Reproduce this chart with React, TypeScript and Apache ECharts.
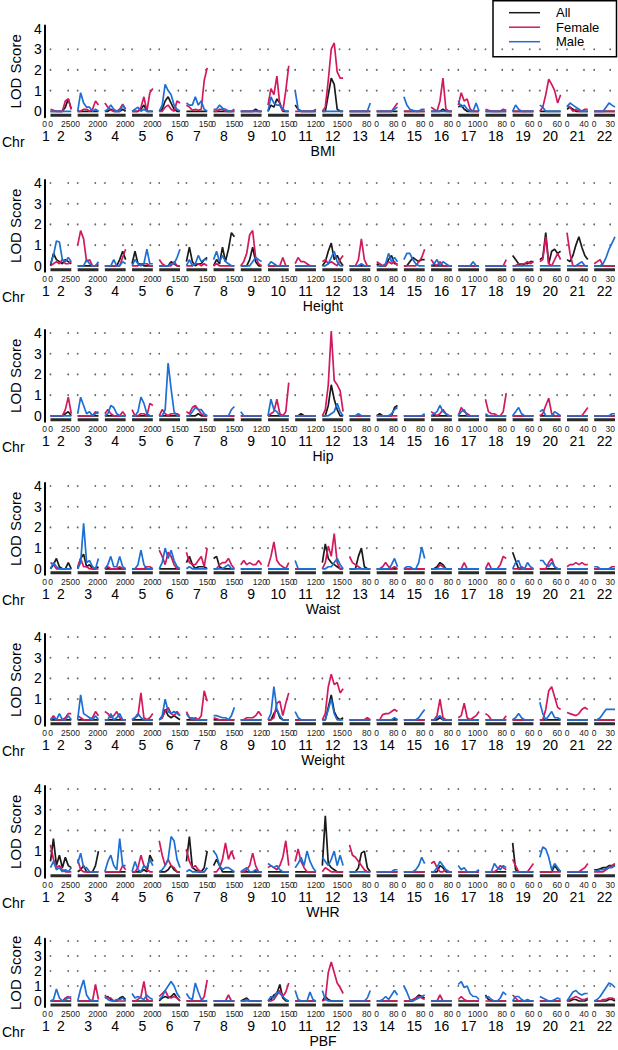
import React, { useEffect, useRef } from "react";
import * as echarts from "echarts";

// ---------------- data ----------------
const CHROMOSOMES = ["1","2","3","4","5","6","7","8","9","10","11","12","13","14","15","16","17","18","19","20","21","22"];
// labelled position (cM) and axis length (cM) of each chromosome
const CHR_TICK = [0, 250, 200, 200, 200, 150, 150, 150, 120, 150, 120, 150, 80, 80, 80, 80, 100, 80, 60, 60, 40, 30];
const CHR_LENGTH = [0, 294, 236, 229, 227, 163, 160, 165, 130, 161, 134, 181, 96, 98, 99, 95, 125, 99, 73, 72, 49, 39];
const Y_TICKS = [0, 1, 2, 3, 4];
const TRAITS = ["BMI", "Height", "Hip", "Waist", "Weight", "WHR", "PBF"];
const SERIES_NAMES = ["All", "Female", "Male"];

// LOD scores per chromosome (chr1 .. chr22), evenly spaced along each chromosome; 0 = flat at zero
type Scan = (number[] | 0 | null)[];

const BMI_ALL: Scan = [null,
  [0,0,0,0,0,0.2,0.6,0.1], 0, [0,0,0.1,0,0,0,0.1,0], [0,0,0,0.1,0.3,0,0,0], [0,0.1,0.5,0.7,0.4,0.1,0,0],
  0, 0, [0,0,0,0,0,0.1,0,0], [0,0.3,0.2,0.6,0.4,0,0,0], [0.3,0.1,0,0,0,0,0,0],
  [0,0,0.8,1.6,1.3,0.1,0,0], 0, 0, 0, [0,0,0,0,0.1,0,0,0],
  [0.2,0.3,0.1,0,0,0,0,0], 0, 0, 0, [0.1,0.2,0.1,0,0,0,0,0], 0];
const BMI_FEMALE: Scan = [null,
  [0.1,0.05,0,0,0,0.5,0.6,0.1], [0,0,0.1,0.1,0,0.1,0.5,0.3], [0.4,0.2,0.05,0,0,0.1,0.35,0.1], [0,0,0,0.2,0.7,0,0.9,1.1], [0,0,0.2,0.3,0.1,0,0.5,0.4],
  [0.3,0.2,0.05,0.1,0.05,0.1,1.5,2.1], [0,0,0.1,0.1,0,0,0,0.1], 0, [0.3,1.1,0.8,1.7,0.3,0,1.0,2.2], [0,0,0,0,0,0,0,0.1],
  [0,0.2,1.5,3.0,3.3,1.9,1.6,1.6], 0, [0,0,0,0,0,0,0.2,0.4], 0, [0.2,0.1,0,0.5,1.6,0.1,0,0],
  [0.3,0.9,0.5,0.6,0.1,0,0,0], [0.1,0.05,0,0,0,0,0.1,0.05], 0, [0,0.2,0.8,1.55,1.3,1.0,0.4,0.8], [0.3,0.2,0,0.1,0,0,0.1,0.1], 0];
const BMI_MALE: Scan = [null,
  0, [0,0.9,0.4,0.2,0.2,0,0.1,0], [0,0.1,0.3,0.1,0,0,0.3,0.1], [0,0.1,0.2,0,0.1,0,0,0], [0,0.3,1.3,1.0,0.8,0.3,0.1,0],
  [0.4,0.3,0.3,0.7,0.3,0.5,0.1,0], [0.1,0.1,0.3,0.15,0.1,0,0,0], 0, [0,0.7,0.4,0.3,0.3,0.1,0,0], [1.0,0.1,0,0,0,0,0,0],
  0, [0,0,0,0,0,0,0,0.4], [0,0,0,0,0,0,0.1,0.2], [0.7,0.3,0.1,0.05,0,0,0.1,0.1], 0,
  [0.5,0.2,0.3,0.1,0,0,0.4,0], 0, [0,0.3,0.1,0,0,0,0,0], [0.3,0.2,0,0,0,0,0,0], [0.2,0.4,0.3,0.2,0.1,0,0,0], [0,0,0,0,0.2,0.4,0.3,0.2]];

const HEIGHT_ALL: Scan = [null,
  [0,0.6,0.3,0.2,0.1,0.3,0.2,0.1], 0, [0,0,0,0,0,0.3,0.7,0.3], [0.1,0.7,0.1,0.1,0,0,0,0], [0,0,0,0,0.2,0.1,0,0],
  [0.2,0.9,0.2,0,0.1,0.1,0.3,0.4], [0,0.3,0.1,0.9,0.2,0.8,1.6,1.4], [0,0,0,0.3,0.9,0.2,0,0], 0, 0,
  [0,0.2,0.7,1.1,0.3,0.5,0.2,0], 0, [0.1,0,0,0,0.3,0.5,0.1,0.1], [0,0,0.2,0.4,0.3,0.2,0.3,0.3], 0,
  0, 0, [0.5,0.3,0.1,0,0.1,0.1,0.2,0.2], [0.3,0.4,1.6,0.1,0.7,0.8,0.6,0.7], [0.3,0.2,0.5,1.0,1.4,0.9,0.5,0.3], 0];
const HEIGHT_FEMALE: Scan = [null,
  [0,0.1,0.2,0.1,0.3,0.1,0.1,0.2], [1.0,1.7,1.3,0.2,0.3,0,0,0.1], [0,0,0,0,0,0,0.4,0.8], [0,0,0,0.1,0.1,0.1,0,0], [0.3,0.1,0,0,0,0.2,0,0],
  [0,0,0,0.1,0.1,0,0.1,0], [0,0.1,0,0,0,0,0,0], [0,0.2,0.6,1.5,1.7,0.4,0.1,0], [0,0,0,0,0,0.4,0,0], [0.1,0.4,0.2,0.2,0.1,0,0,0],
  [0.2,0.3,0.1,0.2,0.1,0,0.3,0.5], [0,0,0,0.3,1.3,0.3,0,0], [0.2,0.1,0,0,0.2,0.1,0.2,0], [0,0,0,0,0,0.2,0.4,0.8], [0.3,0.1,0,0.2,0,0,0,0],
  0, [0,0,0,0,0,0,0,0.3], [0,0,0.1,0.1,0.1,0.2,0.1,0.2], [0.2,0.3,1.4,0.1,0,0.3,0.6,0.3], [1.6,0.6,0,0,0,0,0,0], [0.1,0.2,0.3,0,0,0,0,0]];
const HEIGHT_MALE: Scan = [null,
  [0.1,0.5,1.2,1.15,0.3,0.2,0.4,0.2], [0,0,0,0.3,0.1,0,0,0.2], [0,0,0,0.3,0,0,0.2,0.1], [0,0.3,0.1,0,0.1,0.8,0.1,0.1], [0,0,0,0,0.1,0.1,0.4,0.8],
  [0,0.3,0,0.1,0.5,0.2,0.3,0.3], [0.3,0.7,0.2,0.5,0.2,0.1,0,0], [0,0,0,0,0.2,0.4,0.3,0.2], [0,0.2,0.1,0,0,0,0,0], 0,
  [0,0,0.1,0.4,0.7,0.2,0,0], [0,0,0,0,0.1,0,0,0], [0,0,0,0.1,0.6,0.2,0.4,0.2], [0.3,0.6,0.6,0.3,0.1,0,0,0], [0,0.1,0.3,0,0.2,0.1,0,0],
  [0,0,0,0,0,0.2,0,0], 0, 0, 0, [0,0,0,0,0.1,0.2,0,0], [0,0,0,0.1,0.4,0.8,1.1,1.4]];

const HIP_ALL: Scan = [null,
  [0,0,0,0,0,0.1,0.2,0], 0, 0, 0, 0,
  [0,0,0,0,0.1,0,0,0], 0, 0, 0, [0,0,0.1,0,0,0,0,0],
  [0,0,0.5,1.5,0.8,0.3,0,0], 0, [0,0.1,0,0,0,0,0.4,0.5], 0, 0,
  0, 0, 0, 0, 0, 0];
const HIP_FEMALE: Scan = [null,
  [0,0,0,0,0,0.3,0.9,0.1], [0,0,0,0,0,0,0.2,0.1], [0.1,0.3,0.1,0,0,0,0.2,0], [0.3,0,0,0.1,0.1,0,0.6,0.5], [0,0.3,0.1,0,0.1,0.1,0.1,0],
  [0.2,0.1,0.4,0.5,0.3,0.1,0,0], 0, 0, [0,0.1,0.2,0.8,0.1,0,0.2,1.6], 0,
  [0,0.3,1.5,4.1,1.7,1.5,1.2,0.2], 0, 0, 0, [0.2,0.1,0,0.1,0.3,0.1,0,0],
  [0,0.4,0.2,0.1,0,0,0,0], [0.8,0.2,0.1,0.1,0,0,0.2,1.1], 0, [0,0.1,0.5,0.85,0.1,0,0,0], [0,0,0,0,0,0,0.2,0.4], 0];
const HIP_MALE: Scan = [null,
  0, [0.1,0.9,0.5,0.1,0.2,0,0.1,0.2], [0,0.1,0.5,0.4,0.1,0,0,0], [0,0,0.2,0.9,0.6,0.1,0,0], [0,0,0.3,2.55,1.3,0.2,0,0],
  [0,0,0.2,0.4,0.3,0.3,0.1,0], [0,0,0,0,0,0,0.3,0.45], [0.2,0,0,0,0,0,0,0], [0,0.8,0.3,0.2,0,0,0,0], 0,
  [0,0,0,0.1,0.2,0.6,0.2,0], [0,0,0,0.1,0,0,0,0], [0,0,0,0,0,0.1,0.3,0.4], [0,0,0,0,0,0,0,0.1], [0,0.1,0.2,0.5,0.2,0.1,0,0],
  [0,0.2,0.3,0,0,0,0,0], [0.1,0,0,0,0,0,0,0], [0,0.2,0.4,0.1,0,0,0,0], [0.2,0.3,0,0,0,0.2,0.1,0], 0, [0,0,0,0,0,0,0.1,0.1]];

const WAIST_ALL: Scan = [null,
  [0,0.2,0.5,0.1,0,0,0.3,0], [0,0.5,0.7,0.1,0.2,0,0,0.1], 0, 0, 0,
  [0.3,0.6,0.2,0,0.1,0.1,0.1,0], [0.5,0.6,0.1,0,0,0,0,0], 0, 0, 0,
  [0.3,1.2,0.5,0.3,0.2,0.1,0,0], [0,0,0,0.6,1.0,0.1,0,0], 0, 0, [0,0,0.1,0.3,0.2,0,0,0],
  0, 0, [0.8,0.4,0,0,0,0,0,0], 0, 0, 0];
const WAIST_FEMALE: Scan = [null,
  [0.3,0.2,0,0,0,0,0,0], [0.1,0.5,0.1,0.1,0,0,0,0], [0,0.1,0,0,0,0.1,0,0], [0,0,0,0,0,0.1,0.1,0], [0.9,0.6,0.2,0.8,0.6,0.2,0,0],
  [0.8,0.3,0.2,0.2,0.4,0.6,0.1,1.0], [0,0,0.2,0.3,0.3,0.5,0.2,0], [0.2,0.4,0.2,0.3,0.2,0.2,0.4,0.2], [0.1,0.6,1.3,0.4,0.2,0.1,0,0.3], 0,
  [0,0.3,1.1,0.6,1.7,0.3,0,0], [0.6,0.3,0.2,0.1,0,0,0,0], [0,0,0.1,0.3,0.1,0,0.1,0], 0, [0,0,0,0.2,0.1,0,0,0],
  [0,0,0.3,0,0,0,0,0], [0,0.3,0,0,0,0.2,0.6,0.5], [0,0,0,0.1,0,0,0,0], [0,0,0,0.3,0.5,0.1,0,0], [0.1,0.2,0.2,0.3,0.2,0.3,0.2,0.2], [0,0,0,0,0,0,0.1,0.1]];
const WAIST_MALE: Scan = [null,
  [0,0.3,0.1,0,0,0,0,0], [0,0.3,2.2,0.3,0.4,0.1,0,0.5], [0,0.2,0.6,0.1,0.1,0.6,0.1,0], [0,0,0.2,0.9,0.2,0,0,0], [0,0.3,1.0,0.5,0.9,0.4,0.1,0],
  [0,0.1,0,0,0,0,0,0], [0,0,0,0,0.1,0.2,0,0], 0, 0, [0.4,0,0,0,0,0,0,0],
  [0,0,0.1,0.1,0.3,0.5,0.2,0], 0, [0,0,0,0,0,0.2,0.5,0.1], [0,0.1,0.1,0,0,0.3,1.05,0.5], 0,
  0, 0, [0,0.3,0.4,0,0,0.3,0.1,0], [0.4,0.4,0.2,0.1,0.3,0.1,0,0], 0, [0.1,0.1,0,0,0,0,0,0]];

const WEIGHT_ALL: Scan = [null,
  0, 0, 0, 0, [0,0.1,0.5,0.2,0.1,0.2,0.1,0],
  0, 0, 0, [0,0,0.3,0.5,0.1,0,0,0], 0,
  [0,0,0.6,1.2,0.4,0.1,0,0.1], 0, 0, 0, [0,0,0,0.1,0,0,0,0],
  0, 0, 0, 0, 0, 0];
const WEIGHT_FEMALE: Scan = [null,
  [0,0.2,0,0,0,0.1,0.3,0.3], [0.2,0.1,0,0,0,0.1,0.4,0.2], [0.4,0.3,0.1,0.2,0.4,0.1,0,0], [0,0.1,0.2,1.3,0.1,0,0.1,0.3], [0,0.1,0.4,0.6,0.3,0.2,0.4,0.2],
  [0.4,0.1,0,0.1,0,0.2,1.4,0.9], [0.1,0.05,0,0,0,0,0,0], [0,0,0.1,0.1,0.1,0.2,0.4,0.2], [0,0,0.1,0.8,0.9,0.2,0.8,1.3], 0,
  [0,0.3,1.6,2.2,1.7,1.8,1.3,1.5], [0,0,0,0,0,0,0.1,0], [0,0,0.25,0.3,0.3,0.4,0.5,0.4], 0, [0,0,0.2,1.0,0.1,0,0,0],
  [0.1,0.2,0.8,0.1,0,0.1,0.2,0.4], [0.3,0.2,0,0,0,0,0,0.2], 0, [0,0,0.5,1.4,1.6,1.1,0.6,0.5], [0.35,0.3,0.25,0.2,0.3,0.5,0.6,0.5], 0];
const WEIGHT_MALE: Scan = [null,
  [0,0.1,0,0.3,0,0,0.2,0], [0,1.2,0.3,0.2,0.1,0,0.2,0], [0,0,0.3,0,0.1,0.3,0,0], [0,0.1,0.3,0.1,0,0,0,0], [0,0.2,1.0,0.4,0.3,0.4,0.3,0.2],
  [0.3,0.1,0.1,0,0,0,0,0], [0.2,0.2,0.15,0.1,0.1,0,0.2,0.6], 0, [0,0.3,1.6,0.5,0.2,0,0,0], [0.4,0.1,0,0,0,0,0,0],
  [0,0,0.5,1.0,0.3,0,0,0], 0, [0,0,0,0,0,0,0.1,0], [0,0,0,0,0,0.1,0.3,0.5], [0,0,0.1,0.2,0,0,0,0],
  0, 0, [0,0.1,0.3,0.1,0,0,0,0], [0.85,0.3,0,0.2,0.4,0.1,0.1,0], 0, [0,0,0.1,0.3,0.5,0.5,0.5,0.5]];

const WHR_ALL: Scan = [null,
  [0.5,1.6,0.3,0.8,0.2,0.7,0.3,0.2], [0,0.1,0.3,0,0,0,0.3,1.0], 0, [0,0,0,0,0.1,0,0.8,0.5], [0,0,0,0.1,0.3,0.1,0,0],
  [0.5,1.7,0.2,0.1,0,0,0.2,1.0], [0.3,0.6,0.3,0,0,0,0,0], 0, 0, 0,
  [0.3,2.7,0.4,0.2,0.1,0,0,0], [0,0,0,0.2,0.9,1.0,0.2,0], 0, 0, [0,0,0,0.3,0.2,0,0,0],
  0, 0, [1.4,0.1,0,0,0,0,0,0], [0,0,0,0,0,0.3,0.1,0], 0, [0.1,0.1,0.15,0.2,0.2,0.3,0.3,0.3]];
const WHR_FEMALE: Scan = [null,
  [1.3,0.6,0.2,0.3,0.1,0,0,0], [0.6,0.1,0,0,0,0,0,0], [0,0,0,0,0,0,0.3,0.1], [0,0,0.2,0.8,0.3,0.1,0,0], [1.5,0.8,0.3,0.6,0.3,0.2,0,0],
  [1.1,0.5,0.2,0.3,0.1,0,0,0.2], [0,0,0.2,0.6,1.4,0.6,1.0,0.6], [0,0,0.1,0.3,0.9,0.3,0,0], [0.2,0.3,0.2,0.1,0.3,0.7,1.5,0.3], [0.5,1.1,0.5,0.2,0,0,0,0],
  [0,0.2,0.1,0,0,0,0,0], [1.3,0.8,0.7,0.5,0.3,0.1,0,0], 0, 0, [0.4,0.5,0.2,0,0,0.1,0,0],
  0, [0,0,0,0,0.1,0.3,0.2,0.1], [0.6,0.3,0,0,0,0,0.2,0.4], 0, [0,0,0,0,0,0.1,0.2,0.4], [0,0,0,0,0.1,0.2,0.3,0.4]];
const WHR_MALE: Scan = [null,
  [0.2,0.5,0.1,0.2,0,0.1,0,0.2], [0.4,0.9,0.2,0.2,0,0,0,0], [0,0.5,0.8,0.3,0.1,1.6,0.3,0.3], [0,0.5,0.1,0,0.3,0.2,0.6,0.3], [0,0.1,0.3,0.6,1.7,1.5,0.6,0.2],
  [0,0.1,0,0,0,0,0,0.2], [1.0,0.8,0.3,0.1,0.2,0.2,0.1,0], [0,0.1,0.2,0,0,0.1,0,0], [0.4,0.3,0.2,0.3,0.1,0,0,0], [0.2,0.4,0.7,0.3,1.0,0.5,0.2,0],
  [0.7,0.5,0.3,0.6,1.0,0.3,0.8,0.3], 0, [0,0,0,0,0,0,0.1,0.1], [0,0,0,0,0.1,0.3,0.7,0.4], [0,0,0.2,0.5,0.3,0.1,0,0],
  [0.3,0.1,0.2,0,0,0,0,0.1], [0,0,0,0.4,0.2,0.1,0.3,0.2], 0, [0.7,1.2,1.1,0.7,0.1,0.4,0.2,0], 0, [0,0.05,0.1,0.1,0.15,0.2,0.2,0.3]];

const PBF_ALL: Scan = [null,
  0, 0, [0.2,0.3,0.1,0,0,0.2,0.3,0.1], 0, [0,0.2,0.3,0.2,0.3,0.5,0.2,0],
  0, 0, [0,0.1,0.2,0,0,0,0,0], [0,0.1,0.4,0.5,1.1,0.2,0,0], 0,
  [0,0.3,0.1,0,0,0,0,0], 0, 0, [0,0,0,0,0.2,0.4,0.3,0.2], 0,
  0, [0.4,0.1,0,0,0,0,0,0], 0, 0, [0,0,0.1,0.1,0,0,0,0.1], [0,0,0,0,0,0.1,0.1,0]];
const PBF_FEMALE: Scan = [null,
  [0,0,0,0,0,0.2,0.3,0.1], [0,0,0,0,0,0,1.1,0.1], [0.4,0.2,0.2,0,0,0,0,0], [0,0,0.1,0.3,1.3,0.1,0,0], [0.3,0.5,0.7,0.3,0.2,0.3,0.2,0],
  [0,0,0,0,0,0,0.3,1.4], [0,0,0,0,0,0.4,0,0], 0, [0,0,0.1,0.4,0.7,0.3,0.6,1.2], 0,
  [0,0.1,1.9,2.6,1.9,1.2,0.9,0.5], 0, 0, [0,0,0,0.1,0.2,0.3,0.2,0.1], [0,0,0,0.4,0,0,0,0],
  [0.1,0.3,0.1,0,0,0,0,0], 0, [0.4,0.2,0,0,0,0,0,0], 0, [0,0.1,0.2,0.3,0.2,0.1,0.1,0.2], [0,0,0,0.1,0.1,0.2,0.2,0.1]];
const PBF_MALE: Scan = [null,
  [0,0.1,0.8,0.2,0,0.1,0.2,0.3], [0,0.8,1.4,0.4,0.1,0,0,0], [0.3,0.1,0,0,0.1,0.1,0.2,0], [0.5,0.2,0.3,0.2,0.1,0.4,0.2,0.1], [0.1,0.3,0.7,1.0,1.3,1.0,0.5,0.2],
  [0.5,0.2,0.1,1.2,0.6,0.1,0,0], 0, [0,0,0.1,0,0,0,0,0], [0,0.3,0.2,0.6,0.5,0.3,0.1,0], [0.7,0.1,0,0,0,0.6,0.1,0],
  [0.7,0.1,0,0,0,0,0,0], [0,0,0,0,0,0,0.2,0.7], [0,0,0.1,0.3,0.1,0.4,0.7,0.4], [1.0,0.6,0.1,0,0.1,0.2,0.3,0.4], 0,
  [1.1,1.3,0.9,1.0,0.5,0.3,0.3,0.1], [0.2,0.3,0.1,0,0,0.2,0.6,0.4], [0,0.3,0.3,0.1,0,0.1,0,0], [0.3,0.2,0.1,0,0,0.1,0.2,0.1], [0,0.3,0.6,0.7,0.5,0.4,0.5,0.5], [0,0.1,0.3,0.6,0.9,1.2,1.1,0.9]];

const SCANS: Scan[][] = [
  [BMI_ALL, BMI_FEMALE, BMI_MALE],
  [HEIGHT_ALL, HEIGHT_FEMALE, HEIGHT_MALE],
  [HIP_ALL, HIP_FEMALE, HIP_MALE],
  [WAIST_ALL, WAIST_FEMALE, WAIST_MALE],
  [WEIGHT_ALL, WEIGHT_FEMALE, WEIGHT_MALE],
  [WHR_ALL, WHR_FEMALE, WHR_MALE],
  [PBF_ALL, PBF_FEMALE, PBF_MALE],
];

// ---------------- layout & style ----------------
const FONT = "Liberation Sans";
const COLORS = ["#1a1a1a", "#d2195e", "#1c6fd4"];
const STEP = 28.12;              // px per chromosome slot
const SEG = 21.5 / STEP;         // segment width in slot units
const GRID_LEFT = 25;
const GRID_WIDTH = 592;
const X_MIN = 1 - 6 / STEP;
const X_MAX = X_MIN + GRID_WIDTH / STEP;
const PANEL_Y4 = [28.5, 183, 333, 486, 637, 789, 941];
const PANEL_PPU = [20.7, 20.7, 20.7, 20.7, 20.7, 20.7, 15];
const PANEL_DOT_ROWS = [[1, 2, 3], [1, 2, 3, 4], [1, 2, 3, 4], [1, 2, 3, 4], [1, 2, 3, 4], [1, 2, 3, 4], [1, 2, 3, 4]];
const Y_MAX = 4.15;

const chrStart = (i: number) => (i === 0 ? X_MIN : i);
const tickPos = (i: number) => i + (SEG * CHR_TICK[i]) / CHR_LENGTH[i];

function buildOption() {
  const tickValues: number[] = [];
  const tickText = new Map<string, string>();
  const centers: number[] = [];
  const centerText = new Map<string, string>();
  CHROMOSOMES.forEach((c, i) => {
    const s = chrStart(i);
    tickValues.push(s);
    tickText.set(s.toFixed(4), "0");
    if (i > 0) {
      const t = tickPos(i);
      tickValues.push(t);
      tickText.set(t.toFixed(4), String(CHR_TICK[i]));
    }
    const ctr = i === 0 ? X_MIN + 0.04 : i + SEG / 2;
    centers.push(ctr);
    centerText.set(ctr.toFixed(4), c);
  });

  const grids: any[] = [];
  const xAxes: any[] = [];
  const yAxes: any[] = [];
  const series: any[] = [];
  const graphics: any[] = [];

  TRAITS.forEach((trait, p) => {
    const ppu = PANEL_PPU[p];
    const y4 = PANEL_Y4[p];
    const y0 = y4 + 4 * ppu;
    const yMin = -6 / ppu;
    grids.push({
      left: GRID_LEFT,
      width: GRID_WIDTH,
      top: y4 - (Y_MAX - 4) * ppu,
      height: (Y_MAX - yMin) * ppu,
    });
    xAxes.push({
      type: "value", gridIndex: p, min: X_MIN, max: X_MAX, position: "bottom",
      axisLine: { show: false }, axisTick: { show: false }, splitLine: { show: false },
      axisLabel: {
        customValues: tickValues, showMinLabel: true, showMaxLabel: true,
        formatter: (v: number) => tickText.get(v.toFixed(4)) ?? "",
        fontSize: 8.5, lineHeight: 10, margin: 2, color: "#222", fontFamily: FONT,
      },
    });
    xAxes.push({
      type: "value", gridIndex: p, min: X_MIN, max: X_MAX, position: "bottom", offset: 0,
      axisLine: { show: false }, axisTick: { show: false }, splitLine: { show: false },
      axisLabel: {
        customValues: centers, showMinLabel: true, showMaxLabel: true,
        formatter: (v: number) => centerText.get(v.toFixed(4)) ?? "",
        fontSize: 14, lineHeight: 14, margin: 12, color: "#000", fontFamily: FONT,
      },
    });
    yAxes.push({
      type: "value", gridIndex: p, min: yMin, max: Y_MAX,
      axisLine: { show: true, lineStyle: { color: "#000", width: 2 } },
      axisTick: { show: false }, splitLine: { show: false },
      axisLabel: { customValues: Y_TICKS, fontSize: 14, margin: 3, color: "#000", fontFamily: FONT, showMinLabel: true, showMaxLabel: true },
      name: "LOD Score", nameLocation: "middle", nameGap: 9,
      nameTextStyle: { fontSize: 15, color: "#000", fontFamily: FONT },
    });

    // dotted grid
    const dots: number[][] = [];
    for (let i = 1; i < CHROMOSOMES.length; i++) {
      PANEL_DOT_ROWS[p].forEach((r) => {
        dots.push([chrStart(i), r]);
        dots.push([tickPos(i), r]);
      });
    }
    series.push({
      type: "scatter", xAxisIndex: 2 * p, yAxisIndex: p, data: dots, symbol: "circle", symbolSize: 1.8,
      itemStyle: { color: "#444" }, silent: true, z: 1,
    });

    // chromosome baseline bars
    const barY = -3.9 / ppu;
    const bars: any[] = [];
    for (let i = 1; i < CHROMOSOMES.length; i++) {
      bars.push([chrStart(i), barY], [chrStart(i) + SEG, barY], [chrStart(i) + SEG, null]);
    }
    series.push({
      type: "line", xAxisIndex: 2 * p, yAxisIndex: p, data: bars, symbol: "none", connectNulls: false,
      lineStyle: { color: "#2a2a2a", width: 3 }, silent: true, z: 2, clip: false,
    });

    SCANS[p].forEach((scan, s) => {
      const pts: any[] = [];
      scan.forEach((seg, i) => {
        if (seg === null || i === 0) return;
        const vals = seg === 0 ? [0, 0] : seg;
        const n = vals.length;
        vals.forEach((y, k) => pts.push([i + (SEG * k) / (n - 1), y]));
        pts.push([i + SEG, null]);
      });
      series.push({
        name: SERIES_NAMES[s], type: "line", xAxisIndex: 2 * p, yAxisIndex: p, data: pts,
        symbol: "none", showSymbol: false, connectNulls: false, clip: false,
        lineStyle: { color: COLORS[s], width: 1.7 }, itemStyle: { color: COLORS[s] },
        emphasis: { disabled: true }, silent: true, z: 3 + s,
      });
    });

    graphics.push({
      type: "text", x: 2, y: y0 + 31,
      style: { text: "Chr", fontSize: 14, fontFamily: FONT, fill: "#000", verticalAlign: "middle" },
    });
    graphics.push({
      type: "text", x: 323, y: y0 + 40,
      style: { text: trait, fontSize: 14, lineHeight: 14, fontFamily: FONT, fill: "#000", align: "center", verticalAlign: "middle" },
    });
  });

  // legend box
  const legendItems: any[] = [
    { type: "rect", shape: { x: 493, y: 0.75, width: 123.5, height: 56 }, style: { fill: "#fff", stroke: "#000", lineWidth: 1.5 } },
  ];
  SERIES_NAMES.forEach((nm, s) => {
    const yy = 12.7 + s * 14.5;
    legendItems.push({ type: "line", shape: { x1: 509, y1: yy, x2: 540, y2: yy }, style: { stroke: COLORS[s], lineWidth: 1.5 } });
    legendItems.push({ type: "text", x: 556, y: yy, style: { text: nm, fontSize: 13, fontFamily: FONT, fill: "#000", verticalAlign: "middle" } });
  });
  graphics.push({ type: "group", z: 100, children: legendItems });

  return {
    animation: false,
    backgroundColor: "#fff",
    textStyle: { fontFamily: FONT },
    grid: grids,
    xAxis: xAxes,
    yAxis: yAxes,
    series,
    graphic: graphics,
  };
}

export default function App() {
  const ref = useRef<HTMLDivElement>(null);
  useEffect(() => {
    if (!ref.current) return;
    const chart = echarts.init(ref.current, undefined, { renderer: "svg" });
    chart.setOption(buildOption() as any);
    return () => chart.dispose();
  }, []);
  return (
    <div
      ref={ref}
      style={{ position: "fixed", left: 0, top: 0, width: 618, height: 1050, background: "#fff" }}
    />
  );
}
